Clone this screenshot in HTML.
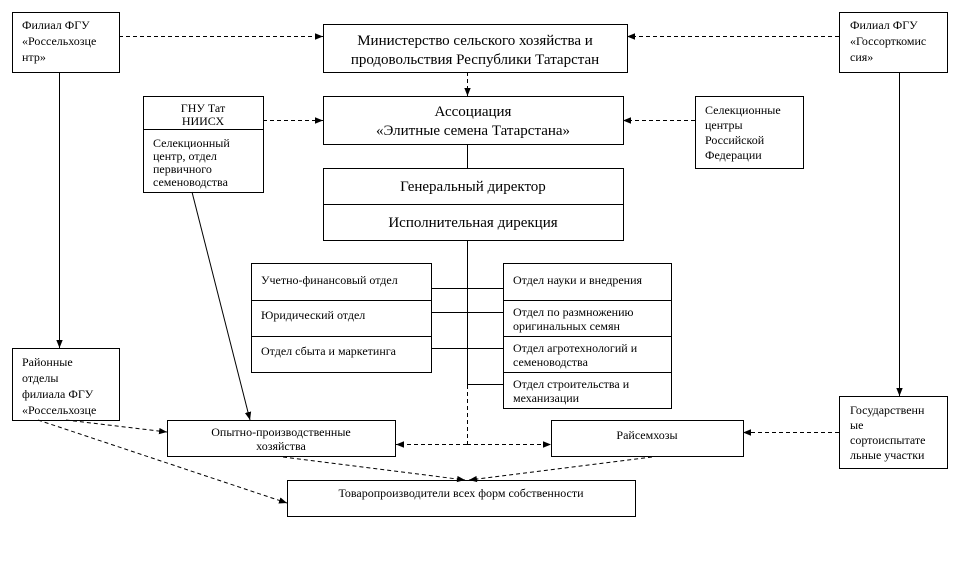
<!DOCTYPE html>
<html><head><meta charset="utf-8"><style>
html,body{margin:0;padding:0;background:#fff;}
svg{display:block;}
text{font-family:"Liberation Serif",serif;fill:#000;}
.s{font-size:12px;}
.b{font-size:15px;}
</style></head><body>
<svg width="960" height="576" viewBox="0 0 960 576" xmlns="http://www.w3.org/2000/svg">
<defs><marker id="a" viewBox="0 0 10 10" refX="10" refY="5" markerWidth="8" markerHeight="8" orient="auto" markerUnits="userSpaceOnUse"><path d="M0,1 L10,5 L0,9z" fill="#000"/></marker></defs>
<g fill="#fff" stroke="#000" stroke-width="1">
<rect x="12.5" y="12.5" width="107" height="60"/>
<rect x="323.5" y="24.5" width="304" height="48"/>
<rect x="839.5" y="12.5" width="108" height="60"/>
<rect x="143.5" y="96.5" width="120" height="96"/>
<line x1="143.5" y1="129.5" x2="263.5" y2="129.5"/>
<rect x="323.5" y="96.5" width="300" height="48"/>
<rect x="695.5" y="96.5" width="108" height="72"/>
<rect x="323.5" y="168.5" width="300" height="72"/>
<line x1="323.5" y1="204.5" x2="623.5" y2="204.5"/>
<rect x="251.5" y="263.5" width="180" height="109"/>
<line x1="251.5" y1="300.5" x2="431.5" y2="300.5"/>
<line x1="251.5" y1="336.5" x2="431.5" y2="336.5"/>
<rect x="503.5" y="263.5" width="168" height="145"/>
<line x1="503.5" y1="300.5" x2="671.5" y2="300.5"/>
<line x1="503.5" y1="336.5" x2="671.5" y2="336.5"/>
<line x1="503.5" y1="372.5" x2="671.5" y2="372.5"/>
<rect x="12.5" y="348.5" width="107" height="72"/>
<rect x="167.5" y="420.5" width="228" height="36"/>
<rect x="551.5" y="420.5" width="192" height="36"/>
<rect x="839.5" y="396.5" width="108" height="72"/>
<rect x="287.5" y="480.5" width="348" height="36"/>
</g>
<g stroke="#000" stroke-width="1" fill="none">
<line x1="467.5" y1="144" x2="467.5" y2="168"/>
<line x1="467.5" y1="240" x2="467.5" y2="385"/>
<line x1="431" y1="288.5" x2="503" y2="288.5"/>
<line x1="431" y1="312.5" x2="503" y2="312.5"/>
<line x1="431" y1="348.5" x2="503" y2="348.5"/>
<line x1="467" y1="384.5" x2="503" y2="384.5"/>
<line x1="59.5" y1="72" x2="59.5" y2="348" marker-end="url(#a)"/>
<line x1="899.5" y1="72" x2="899.5" y2="396" marker-end="url(#a)"/>
<line x1="192" y1="192" x2="250" y2="420" marker-end="url(#a)"/>
</g>
<g stroke="#000" stroke-width="1" fill="none" stroke-dasharray="4,3">
<line x1="119" y1="36.5" x2="323" y2="36.5" marker-end="url(#a)"/>
<line x1="839" y1="36.5" x2="627" y2="36.5" marker-end="url(#a)"/>
<line x1="467.5" y1="72" x2="467.5" y2="96" marker-end="url(#a)"/>
<line x1="263" y1="120.5" x2="323" y2="120.5" marker-end="url(#a)"/>
<line x1="695" y1="120.5" x2="623" y2="120.5" marker-end="url(#a)"/>
<line x1="467.5" y1="385" x2="467.5" y2="444"/>
<line x1="467" y1="444.5" x2="396" y2="444.5" marker-end="url(#a)"/>
<line x1="467" y1="444.5" x2="551" y2="444.5" marker-end="url(#a)"/>
<line x1="839" y1="432.5" x2="743" y2="432.5" marker-end="url(#a)"/>
<line x1="66" y1="420" x2="167" y2="432" marker-end="url(#a)"/>
<line x1="38" y1="420" x2="287" y2="503" marker-end="url(#a)"/>
<line x1="283" y1="457" x2="465" y2="480" marker-end="url(#a)"/>
<line x1="652" y1="457" x2="469" y2="480" marker-end="url(#a)"/>
</g>
<g class="s">
<text x="22" y="29">Филиал ФГУ</text><text x="22" y="45">«Россельхозце</text><text x="22" y="61">нтр»</text>
<text x="850" y="29">Филиал ФГУ</text><text x="850" y="45">«Госсорткомис</text><text x="850" y="61">сия»</text>
<text x="203" y="112" text-anchor="middle">ГНУ Тат</text><text x="203" y="125" text-anchor="middle">НИИСХ</text>
<text x="153" y="147">Селекционный</text><text x="153" y="160">центр, отдел</text><text x="153" y="173">первичного</text><text x="153" y="186">семеноводства</text>
<text x="705" y="114">Селекционные</text><text x="705" y="129">центры</text><text x="705" y="144">Российской</text><text x="705" y="159">Федерации</text>
<text x="261" y="284">Учетно-финансовый отдел</text>
<text x="261" y="319">Юридический отдел</text>
<text x="261" y="355">Отдел сбыта и маркетинга</text>
<text x="513" y="284">Отдел науки и внедрения</text>
<text x="513" y="316">Отдел по размножению</text><text x="513" y="330">оригинальных семян</text>
<text x="513" y="352">Отдел агротехнологий и</text><text x="513" y="366">семеноводства</text>
<text x="513" y="388">Отдел строительства и</text><text x="513" y="402">механизации</text>
<text x="22" y="366">Районные</text><text x="22" y="382">отделы</text><text x="22" y="398">филиала ФГУ</text><text x="22" y="414">«Россельхозце</text>
<text x="281" y="436" text-anchor="middle">Опытно-производственные</text><text x="281" y="450" text-anchor="middle">хозяйства</text>
<text x="647" y="439" text-anchor="middle">Райсемхозы</text>
<text x="850" y="414">Государственн</text><text x="850" y="429">ые</text><text x="850" y="444">сортоиспытате</text><text x="850" y="459">льные участки</text>
<text x="461" y="497" text-anchor="middle">Товаропроизводители всех форм собственности</text>
</g>
<g class="b">
<text x="475" y="45" text-anchor="middle">Министерство сельского хозяйства и</text>
<text x="475" y="64" text-anchor="middle">продовольствия Республики Татарстан</text>
<text x="473" y="116" text-anchor="middle">Ассоциация</text>
<text x="473" y="135" text-anchor="middle">«Элитные семена Татарстана»</text>
<text x="473" y="191" text-anchor="middle">Генеральный директор</text>
<text x="473" y="227" text-anchor="middle">Исполнительная дирекция</text>
</g>
</svg>
</body></html>
